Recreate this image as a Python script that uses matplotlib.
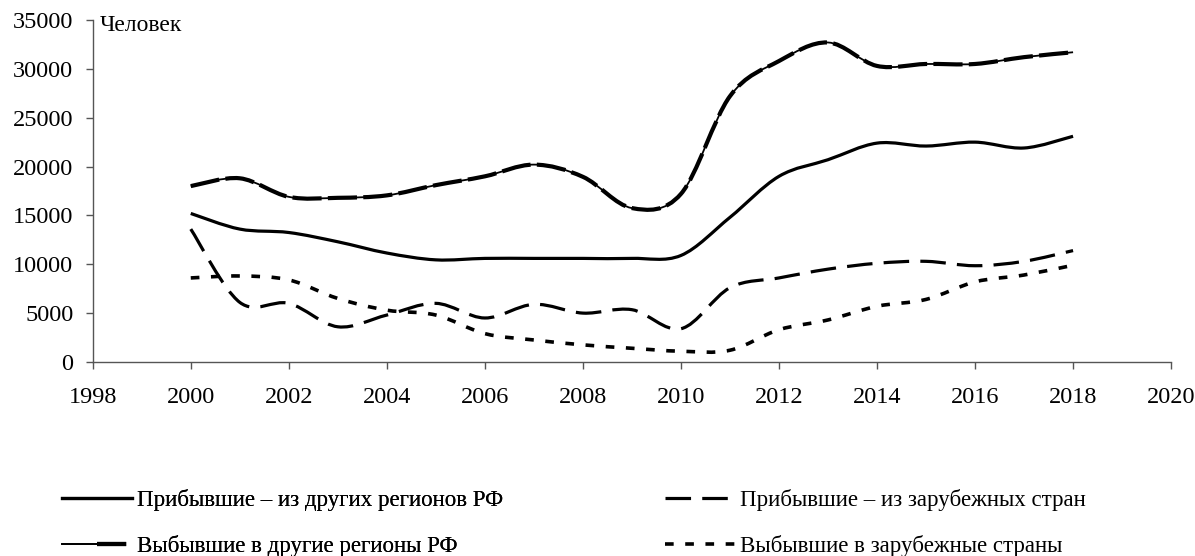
import numpy as np
import matplotlib.pyplot as plt
from matplotlib.path import Path
from matplotlib.patches import PathPatch
from matplotlib.legend_handler import HandlerTuple

# migration, persons per year
years = list(range(2000, 2019))
arr_regions = [15200, 13600, 13250, 12300, 11150, 10450, 10600, 10600, 10600, 10600,
               10900, 14800, 19000, 20700, 22400, 22100, 22500, 21900, 23100]
arr_abroad = [13600, 6100, 6000, 3600, 4800, 6000, 4500, 5900, 5000, 5350,
              3400, 7600, 8600, 9500, 10100, 10300, 9850, 10300, 11400]
dep_regions = [18000, 18800, 16900, 16800, 17050, 18100, 19000, 20200, 18950, 15750,
               17200, 27200, 30800, 32700, 30300, 30500, 30500, 31200, 31700]
dep_abroad = [8600, 8800, 8400, 6500, 5300, 4800, 2900, 2250, 1750, 1400,
              1100, 1200, 3300, 4300, 5700, 6400, 8200, 8900, 9900]

labels = ['Прибывшие – из других регионов РФ', 'Выбывшие в другие регионы РФ',
          'Прибывшие – из зарубежных стран', 'Выбывшие в зарубежные страны']
yticks = [0, 5000, 10000, 15000, 20000, 25000, 30000, 35000]
xticks = list(range(1998, 2021, 2))


def smooth_path(x, y):
    '''smoothed line like a spreadsheet chart (bezier through the points)'''
    p = np.column_stack([x, y]).astype(float)
    ext = np.vstack([p[0], p, p[-1]])
    verts = [p[0]]
    codes = [Path.MOVETO]
    for i in range(len(p) - 1):
        c1 = ext[i + 1] + (ext[i + 2] - ext[i]) / 6.0
        c2 = ext[i + 2] - (ext[i + 3] - ext[i + 1]) / 6.0
        verts += [c1, c2, ext[i + 2]]
        codes += [Path.CURVE4] * 3
    return Path(verts, codes)


def draw(ax, y, **kw):
    patch = PathPatch(smooth_path(years, y), fill=False, edgecolor='black',
                      capstyle='butt', joinstyle='round', **kw)
    ax.add_patch(patch)


plt.rcParams['font.family'] = ['Liberation Serif', 'DejaVu Serif']
fig = plt.figure(figsize=(11.95, 5.56), dpi=100)
ax = fig.add_axes([0.0776, 0.349, 0.9024, 0.615])

draw(ax, arr_regions, linewidth=2.3, linestyle='-')
draw(ax, dep_regions, linewidth=1.3, linestyle='-')
draw(ax, dep_regions, linewidth=3.0, linestyle=(0, (7, 1.5)))
draw(ax, arr_abroad, linewidth=2.3, linestyle=(0, (8, 3.5)))
draw(ax, dep_abroad, linewidth=2.6, linestyle=(0, (2.4, 3.2)))

# proxy lines for the legend
h1, = ax.plot([], [], color='black', lw=2.3, ls='-')
h2a, = ax.plot([], [], color='black', lw=1.3, ls='-')
h2b, = ax.plot([], [], color='black', lw=3.0, ls=(0, (7, 1.5)))
h3, = ax.plot([], [], color='black', lw=2.3, ls=(0, (8, 3.5)))
h4, = ax.plot([], [], color='black', lw=2.6, ls=(0, (2.4, 3.2)))

ax.set_xlim(1998, 2020)
ax.set_ylim(0, 35000)
ax.set_xticks(xticks)
ax.set_yticks(yticks)
ax.tick_params(axis='both', labelsize=17.5, direction='out', length=5, width=1,
               color='#555555')
ax.tick_params(axis='x', pad=13)
ax.tick_params(axis='y', pad=9)
for s in ['top', 'right']:
    ax.spines[s].set_visible(False)
for s in ['left', 'bottom']:
    ax.spines[s].set_color('#555555')
    ax.spines[s].set_linewidth(1.0)

ax.text(0.0068, 0.985, 'Человек', transform=ax.transAxes, fontsize=17,
        ha='left', va='center')

# two legend columns placed separately
leg_kw = dict(loc='upper left', frameon=False, fontsize=16.5, handlelength=3.05,
              handletextpad=0.22, labelspacing=1.05, borderpad=0, borderaxespad=0,
              handler_map={tuple: HandlerTuple(ndivide=None, pad=0)})
leg1 = fig.legend([h1, (h2a, h2b)], labels[:2], bbox_to_anchor=(0.0516, 0.121), **leg_kw)
fig.add_artist(leg1)
fig.legend([h3, h4], labels[2:], bbox_to_anchor=(0.5565, 0.121), **leg_kw)

fig.savefig('out.png', dpi=100)
